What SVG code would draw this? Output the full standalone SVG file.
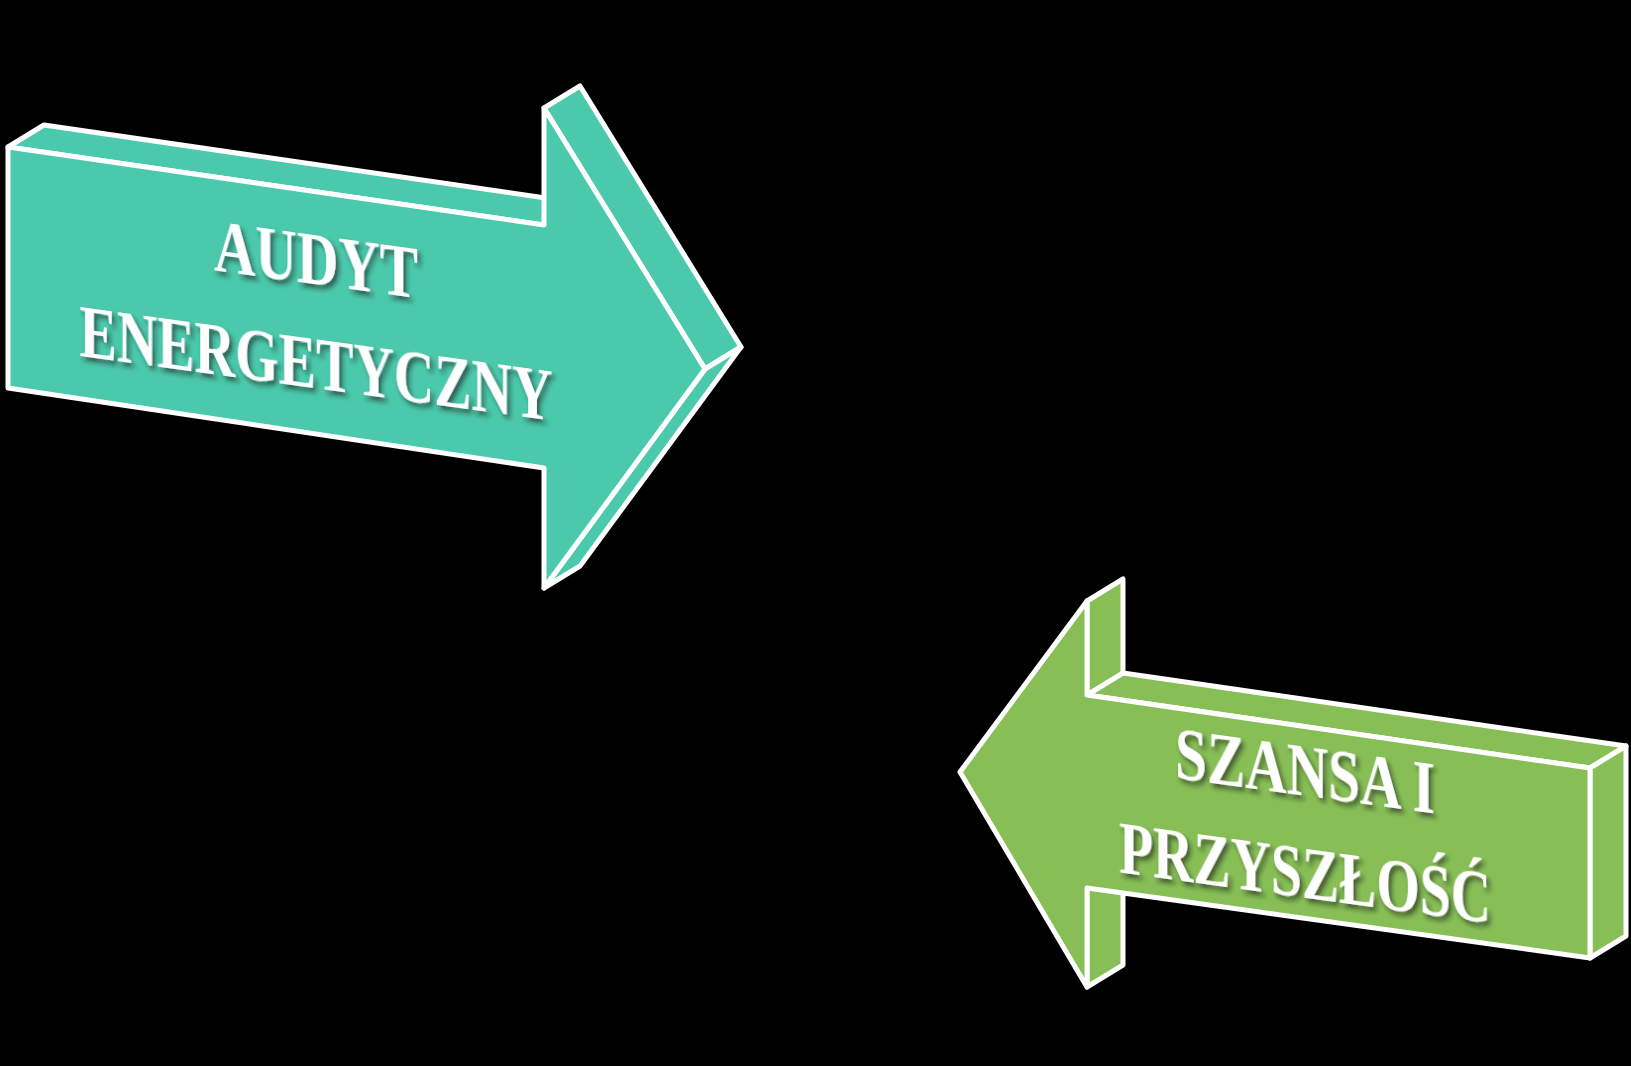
<svg xmlns="http://www.w3.org/2000/svg" width="1631" height="1066" viewBox="0 0 1631 1066">
<defs>
<style>
.teal{fill:#4BC9AC;stroke:#FFFFFF;stroke-width:5;stroke-linejoin:round}
.green{fill:#87BF56;stroke:#FFFFFF;stroke-width:5;stroke-linejoin:round}
.lbl{font-family:"Liberation Serif","DejaVu Serif",serif;font-weight:bold;font-size:75px;fill:#FFFFFF;text-anchor:middle;filter:url(#sh)}
</style>
<filter id="sh" x="-10%" y="-30%" width="120%" height="160%">
<feDropShadow dx="3" dy="4" stdDeviation="2.5" flood-color="#1a1a1a" flood-opacity="0.65"/>
</filter>
</defs>
<rect x="0" y="0" width="1631" height="1066" fill="#000000"/>
<g id="audyt">
<polygon class="teal" points="8,147 44,125 580,203 544,225"/>
<polygon class="teal" points="544,108 580,86 741,347 705,369"/>
<polygon class="teal" points="705,369 741,347 580,566 544,588"/>
<polygon class="teal" points="8,147 544,225 544,108 705,369 544,588 544,468 8,388"/>
<g transform="skewY(7.8)">
<text class="lbl" x="316" y="241" textLength="204" lengthAdjust="spacingAndGlyphs">AUDYT</text>
<text class="lbl" x="316" y="345" textLength="473" lengthAdjust="spacingAndGlyphs">ENERGETYCZNY</text>
</g>
</g>
<g id="szansa">
<polygon class="green" points="1087,601 1123,579 1123,965 1087,987"/>
<polygon class="green" points="1087,695 1123,673 1626,746 1590,768"/>
<polygon class="green" points="1590,768 1626,746 1626,936 1590,958"/>
<polygon class="green" points="960,772 1087,601 1087,695 1590,768 1590,958 1087,888 1087,987"/>
<g transform="skewY(7.8)">
<text class="lbl" x="1305" y="617" textLength="260" lengthAdjust="spacingAndGlyphs">SZANSA I</text>
<text class="lbl" x="1305" y="719" textLength="372" lengthAdjust="spacingAndGlyphs">PRZYSZŁOŚĆ</text>
</g>
</g>
</svg>
